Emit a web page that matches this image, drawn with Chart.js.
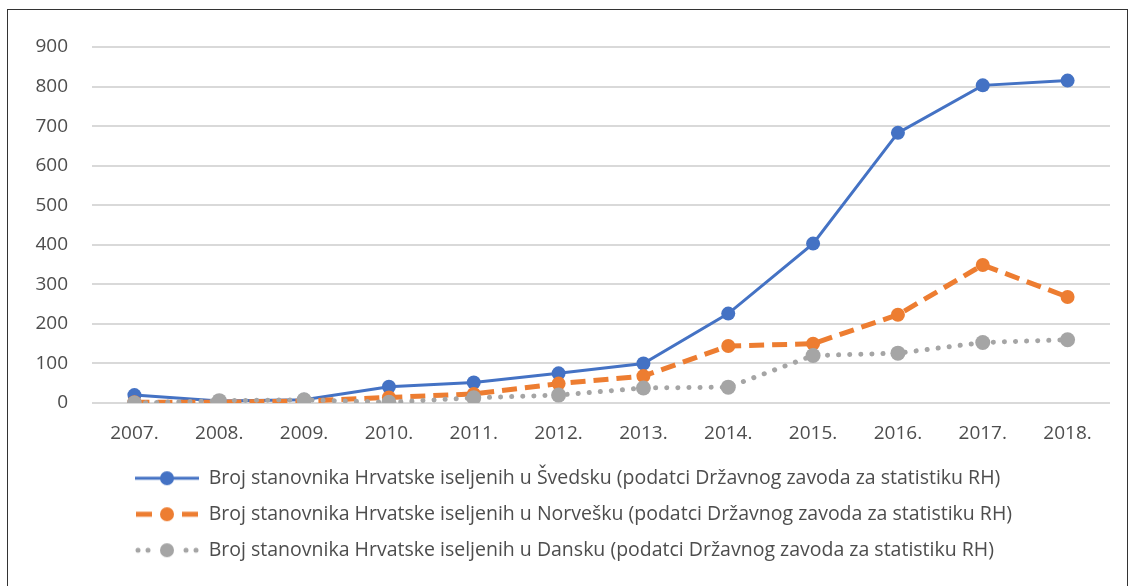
<!DOCTYPE html>
<html>
<head>
<meta charset="utf-8">
<script src="https://cdn.jsdelivr.net/npm/chart.js@4/dist/chart.umd.min.js"></script>
<style>
  html, body { margin: 0; padding: 0; background: #fff; }
  #wrap { position: relative; width: 1132px; height: 586px; overflow: hidden; }
  #frame { position: absolute; left: 7px; top: 9px; width: 1119px; height: 600px; border: 1px solid #333; }
  #chart { position: absolute; left: 0; top: 0; }
</style>
</head>
<body>
<div id="wrap">
  <div id="frame"></div>
  <canvas id="chart" width="1132" height="586"></canvas>
</div>
<script>
// categories and series
const years = ['2007.', '2008.', '2009.', '2010.', '2011.', '2012.', '2013.', '2014.', '2015.', '2016.', '2017.', '2018.'];
const sweden = [20, 5, 8, 41, 52, 75, 100, 226, 403, 683, 803, 815];
const norway = [2, 2, 5, 14, 23, 49, 68, 144, 150, 223, 349, 268];
const denmark = [0, 6, 8, 2, 13, 20, 38, 40, 120, 126, 153, 160];
const yTicks = [0, 100, 200, 300, 400, 500, 600, 700, 800, 900];

const labels = [
    'Broj stanovnika Hrvatske iseljenih u Švedsku (podatci Državnog zavoda za statistiku RH)',
    'Broj stanovnika Hrvatske iseljenih u Norvešku (podatci Državnog zavoda za statistiku RH)',
    'Broj stanovnika Hrvatske iseljenih u Dansku (podatci Državnog zavoda za statistiku RH)'
];

const BLUE = '#4472C4';
const ORANGE = '#ED7D31';
const GREY = '#A5A5A5';
const TEXT = '#4D4D4D';
const FONT = 'Open Sans';

// little legend samples: line style + marker, like the office legend
function legendSample(color, kind) {
    const c = document.createElement('canvas');
    c.width = 64;
    c.height = 20;
    const g = c.getContext('2d');
    g.strokeStyle = color;
    g.fillStyle = color;
    if (kind === 'solid') {
        g.lineWidth = 3;
        g.beginPath();
        g.moveTo(0, 10);
        g.lineTo(64, 10);
        g.stroke();
    } else if (kind === 'dash') {
        g.lineWidth = 5;
        g.beginPath();
        g.moveTo(1, 10); g.lineTo(17, 10);
        g.moveTo(47, 10); g.lineTo(63, 10);
        g.stroke();
    } else {
        [3, 13, 51, 61].forEach(x => {
            g.beginPath();
            g.arc(x, 10, 2.5, 0, Math.PI * 2);
            g.fill();
        });
    }
    g.beginPath();
    g.arc(32, 10, 7, 0, Math.PI * 2);
    g.fill();
    return c;
}

const samples = [
    legendSample(BLUE, 'solid'),
    legendSample(ORANGE, 'dash'),
    legendSample(GREY, 'dot')
];

// push the legend rows over to where the original has them
const legendShift = {
    id: 'legendShift',
    afterLayout(chart) {
        chart.legend.left = 118.5;
        chart.legend.top += 3;
    }
};

const ctx = document.getElementById('chart').getContext('2d');

new Chart(ctx, {
    type: 'line',
    data: {
        labels: years,
        datasets: [
            {
                label: labels[0],
                data: sweden,
                borderColor: BLUE,
                backgroundColor: BLUE,
                borderWidth: 3,
                pointRadius: 7,
                pointBorderWidth: 0,
                order: 3
            },
            {
                label: labels[1],
                data: norway,
                borderColor: ORANGE,
                backgroundColor: ORANGE,
                borderWidth: 5,
                borderDash: [15, 8],
                pointRadius: 7,
                pointBorderWidth: 0,
                order: 2
            },
            {
                label: labels[2],
                data: denmark,
                borderColor: GREY,
                backgroundColor: GREY,
                borderWidth: 5,
                borderDash: [0.1, 11],
                borderCapStyle: 'round',
                pointRadius: 7.5,
                pointBorderWidth: 0,
                order: 1
            }
        ]
    },
    options: {
        responsive: false,
        animation: false,
        layout: {
            padding: { top: 47, left: 8, right: 22, bottom: 19 }
        },
        scales: {
            x: {
                offset: true,
                grid: { display: false },
                border: { display: false },
                ticks: {
                    color: TEXT,
                    font: { family: FONT, size: 19 },
                    padding: 11,
                    maxRotation: 0
                },
                afterFit: (scale) => { scale.height = 46; }
            },
            y: {
                min: 0,
                max: 900,
                afterBuildTicks: (scale) => { scale.ticks = yTicks.map(v => ({ value: v })); },
                grid: { color: '#D9D9D9', lineWidth: 2, drawTicks: false },
                border: { display: false },
                ticks: {
                    color: TEXT,
                    font: { family: FONT, size: 19 },
                    padding: 24
                },
                afterFit: (scale) => { scale.width = 84; }
            }
        },
        plugins: {
            tooltip: { enabled: false },
            legend: {
                position: 'bottom',
                align: 'start',
                fullSize: false,
                labels: {
                    color: TEXT,
                    font: { family: FONT, size: 19.5 },
                    padding: 16.5,
                    usePointStyle: true,
                    pointStyleWidth: 64,
                    sort: (a, b) => a.datasetIndex - b.datasetIndex,
                    generateLabels: (chart) => {
                        const items = Chart.defaults.plugins.legend.labels.generateLabels(chart);
                        items.forEach(item => { item.pointStyle = samples[item.datasetIndex]; });
                        return items;
                    }
                }
            }
        }
    },
    plugins: [legendShift]
});
</script>
</body>
</html>
